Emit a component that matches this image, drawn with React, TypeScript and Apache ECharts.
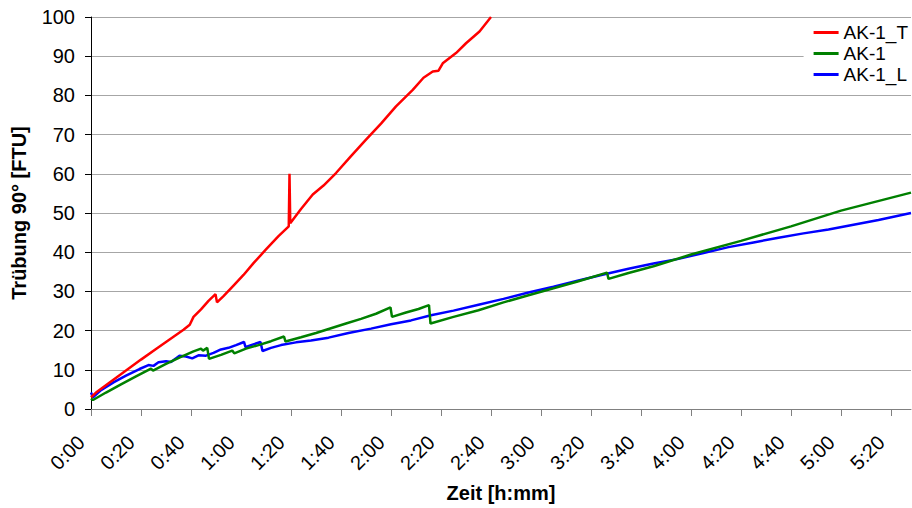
import React, { useEffect, useRef } from "react";
import * as echarts from "echarts";

// Turbidity over time for three samples (time in minutes, turbidity in FTU)
const tMinutes = [0, 2, 8, 14, 20, 26, 32, 37, 39.5, 41, 44, 47, 49.8, 50.4, 53, 57, 61, 65, 70, 75, 79.1, 79.4, 79.7, 84, 88.7, 93, 98, 104, 110, 116, 122, 128.7, 133, 136.7, 139, 140.7, 146, 150, 155.4, 160];
const tValues = [3, 4.2, 7, 9.8, 12.6, 15.3, 18, 20.2, 21.5, 23.5, 25.4, 27.6, 29.3, 27.2, 28.8, 31.5, 34.2, 37.2, 40.7, 44.1, 46.6, 60, 47.4, 51, 54.7, 57, 60.2, 64.5, 68.7, 72.8, 77.2, 81.4, 84.5, 86.1, 86.3, 88.2, 90.8, 93.3, 96.3, 100];

const aMinutes = [0, 0.8, 6, 12, 18, 24, 24.8, 30, 36, 41, 44, 44.8, 46.5, 47.2, 52, 56.5, 57.3, 62, 67, 72, 77.2, 77.8, 84, 90, 96, 102, 108, 114, 119.8, 120.4, 126, 131, 135.2, 135.8, 145, 155, 165, 175, 185, 195, 206.4, 207, 215, 225, 240, 260, 280, 300, 314, 328];
const aValues = [2.7, 2.3, 4.2, 6.3, 8.3, 10.3, 9.8, 11.5, 13.3, 14.7, 15.4, 14.9, 15.6, 12.8, 13.8, 14.9, 14.2, 15.4, 16.3, 17.3, 18.5, 17.2, 18.3, 19.4, 20.6, 21.8, 23, 24.3, 25.9, 23.5, 24.6, 25.5, 26.5, 21.8, 23.5, 25.2, 27.2, 29, 30.8, 32.6, 34.8, 33.2, 34.7, 36.4, 39.4, 42.9, 46.6, 50.6, 52.9, 55.2];

const lMinutes = [0, 0.8, 4, 9, 14, 19.4, 23, 25, 27, 30, 32, 35.4, 38, 40.5, 43, 46, 49, 52, 55, 58, 61.2, 61.8, 64, 67.8, 68.6, 72, 76, 82, 88, 95, 103, 112, 120, 128, 136, 145, 155, 165, 175, 185, 195, 205, 215, 225, 235, 245, 255, 265, 275, 285, 295, 305, 315, 328];
const lValues = [4.2, 3, 4.8, 6.8, 8.5, 10.2, 11.2, 11, 11.9, 12.2, 12, 13.6, 13.4, 12.9, 13.7, 13.6, 14.3, 15.2, 15.6, 16.3, 17.1, 15.8, 16.3, 17.1, 14.8, 15.6, 16.3, 17, 17.5, 18.2, 19.4, 20.5, 21.6, 22.6, 23.9, 25.1, 26.6, 28.1, 29.7, 31.2, 32.8, 34.3, 35.8, 37.1, 38.3, 39.8, 41.3, 42.5, 43.7, 44.8, 45.8, 47, 48.2, 50];

const seriesNames = ["AK-1_T", "AK-1", "AK-1_L"];
const seriesColors = ["#ff0000", "#008000", "#0000ff"];

const xMax = 328;
const xStep = 20;
const yMax = 100;
const yStep = 10;

const FONT = "'Liberation Sans', Arial, sans-serif";

const pair = (xs: number[], ys: number[]) => xs.map((x, i) => [x, ys[i]]);

const fmtTime = (m: number) => {
  const h = Math.floor(m / 60);
  const mm = Math.round(m - h * 60);
  return `${h}:${mm < 10 ? "0" : ""}${mm}`;
};

export default function App() {
  const ref = useRef<HTMLDivElement>(null);

  useEffect(() => {
    if (!ref.current) return;
    const chart = echarts.init(ref.current, undefined, { renderer: "svg" });
    const data = [pair(tMinutes, tValues), pair(aMinutes, aValues), pair(lMinutes, lValues)];
    chart.setOption({
      animation: false,
      backgroundColor: "#ffffff",
      textStyle: { fontFamily: FONT },
      grid: { left: 91, right: 1, top: 17, bottom: 98, containLabel: false },
      legend: {
        orient: "vertical",
        right: 0,
        top: 18,
        backgroundColor: "#ffffff",
        padding: [5, 4, 5, 10],
        itemWidth: 25,
        itemHeight: 3,
        itemGap: 2,
        icon: "rect",
        textStyle: { fontFamily: FONT, fontSize: 19, color: "#000", lineHeight: 19 },
        data: seriesNames,
      },
      xAxis: {
        type: "value",
        min: 0,
        max: xMax,
        interval: xStep,
        name: "Zeit [h:mm]",
        nameLocation: "middle",
        nameGap: 74,
        nameTextStyle: { fontFamily: FONT, fontSize: 20, fontWeight: "bold", color: "#000" },
        axisLine: { show: true, lineStyle: { color: "#808080", width: 1 } },
        axisTick: { show: true, length: 7, lineStyle: { color: "#808080" } },
        splitLine: { show: false },
        axisLabel: {
          rotate: 45,
          margin: 20,
          padding: [0, 14, 0, 0],
          showMaxLabel: false,
          fontFamily: FONT,
          fontSize: 20,
          color: "#000",
          formatter: (v: number) => fmtTime(v),
        },
      },
      yAxis: {
        type: "value",
        min: 0,
        max: yMax,
        interval: yStep,
        name: "Trübung 90° [FTU]",
        nameLocation: "middle",
        nameGap: 62,
        nameTextStyle: { fontFamily: FONT, fontSize: 20, fontWeight: "bold", color: "#000" },
        axisLine: { show: true, lineStyle: { color: "#000", width: 1 } },
        axisTick: { show: true, length: 6, lineStyle: { color: "#000" } },
        splitLine: { show: true, lineStyle: { color: "#a6a6a6", width: 1 } },
        axisLabel: { margin: 16, fontFamily: FONT, fontSize: 20, color: "#000" },
      },
      series: seriesNames.map((name, i) => ({
        name,
        type: "line",
        data: data[i],
        symbol: "none",
        clip: true,
        lineStyle: { color: seriesColors[i], width: 2.5 },
        itemStyle: { color: seriesColors[i] },
        z: 3 - i,
      })),
    });
    return () => chart.dispose();
  }, []);

  return (
    <div
      ref={ref}
      style={{ position: "fixed", left: 0, top: 0, width: 912, height: 508 }}
    />
  );
}
